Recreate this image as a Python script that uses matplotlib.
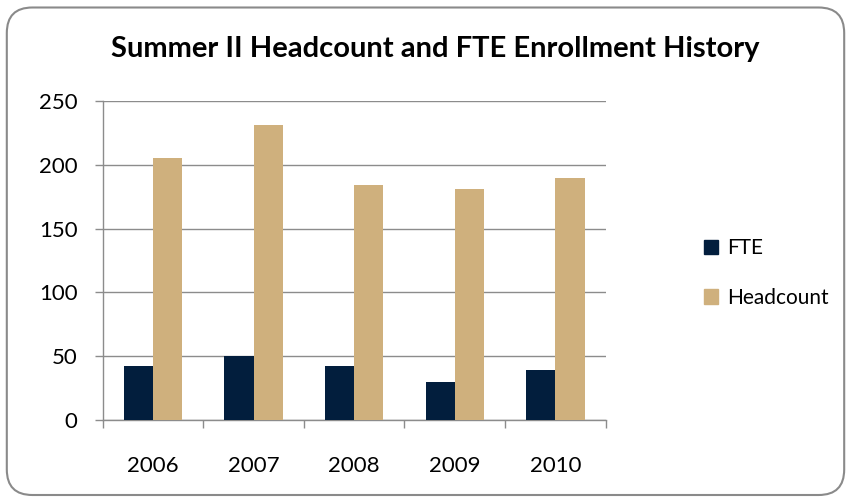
import matplotlib.pyplot as plt
import numpy as np
from matplotlib.patches import FancyBboxPatch, Patch

years = ["2006", "2007", "2008", "2009", "2010"]
fte = [42, 50, 42, 30, 39]
headcount = [205, 231, 184, 181, 190]

navy = "#021E3D"
tan = "#CFB07D"
grid_grey = "#8C8C8C"

plt.rcParams["font.family"] = ["Lato", "DejaVu Sans"]

fig = plt.figure(figsize=(8.51, 5.0), dpi=100)

# rounded chart frame, kept behind the axes
frame = FancyBboxPatch(
    (0.008, 0.01), 0.984, 0.975,
    boxstyle="round,pad=0,rounding_size=0.03",
    transform=fig.transFigure,
    facecolor="white", edgecolor="#8A8A8A", linewidth=1.5,
    mutation_aspect=851 / 500, zorder=-1,
)
fig.patches.append(frame)

ax = fig.add_axes([0.1207, 0.16, 0.591, 0.638])
ax.patch.set_alpha(0)

x = np.arange(len(years))
w = 0.29
ax.bar(x - w / 2, fte, width=w, color=navy, label="FTE", zorder=3)
ax.bar(x + w / 2, headcount, width=w, color=tan, label="Headcount", zorder=3)

ax.set_xlim(-0.5, len(years) - 0.5)
ax.set_ylim(0, 250)
ax.set_yticks(range(0, 251, 50))
ax.yaxis.grid(True, color=grid_grey, linewidth=1)
ax.set_axisbelow(True)

ax.set_xticks(x)
ax.set_xticklabels(years)
ax.set_xticks(np.arange(-0.5, len(years)), minor=True)
ax.tick_params(axis="x", which="major", length=0, pad=26, labelsize=16)
ax.tick_params(axis="x", which="minor", length=6, color=grid_grey, width=1)
ax.tick_params(axis="y", length=6, color=grid_grey, width=1, pad=12, labelsize=16)

for s in ["top", "right"]:
    ax.spines[s].set_visible(False)
for s in ["left", "bottom"]:
    ax.spines[s].set_color(grid_grey)
    ax.spines[s].set_linewidth(1)

fig.text(0.512, 0.903, "Summer II Headcount and FTE Enrollment History",
         ha="center", va="center", fontsize=21, fontweight="bold")

handles = [Patch(color=navy), Patch(color=tan)]
fig.legend(handles, ["FTE", "Headcount"], loc="center left",
           bbox_to_anchor=(0.805, 0.454), frameon=False, fontsize=15,
           handlelength=0.7, handleheight=0.7, handletextpad=0.4,
           labelspacing=1.4)

fig.savefig("out.png", dpi=100)
